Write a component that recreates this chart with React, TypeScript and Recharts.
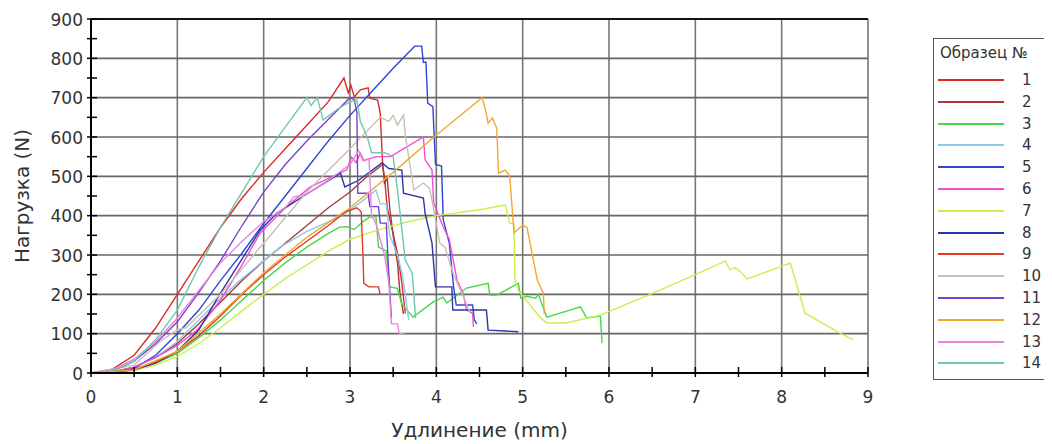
import React from 'react';
import { LineChart, Line, XAxis, YAxis, ReferenceLine } from 'recharts';

// ---- data ----
const seriesNames = ['1', '2', '3', '4', '5', '6', '7', '8', '9', '10', '11', '12', '13', '14'];
const seriesColors = [
  '#dc2a28', '#a83a36', '#44d844', '#8ec8ea', '#2e46d4', '#f04ed4', '#c8f04e',
  '#2a36a6', '#e23a26', '#cabfb2', '#7a42cc', '#f0a830', '#e884e2', '#6ec8ae',
];

const sample1: [number, number][] = [
  [0, 0], [0.25, 10], [0.5, 45], [0.75, 115], [1, 200], [1.25, 285], [1.5, 370], [1.75, 445], [2, 510],
  [2.25, 570], [2.5, 630], [2.75, 690], [2.93, 750], [2.98, 712], [3.01, 732], [3.05, 702], [3.12, 720],
  [3.21, 725], [3.23, 699], [3.32, 694], [3.35, 661], [3.38, 524], [3.4, 498], [3.43, 422], [3.55, 305],
  [3.6, 230], [3.64, 152],
];
const sample2: [number, number][] = [
  [0, 0], [0.25, 3], [0.5, 15], [0.75, 40], [1, 75], [1.25, 125], [1.5, 180], [1.75, 235], [2, 285],
  [2.25, 330], [2.5, 375], [2.75, 420], [3, 460], [3.2, 500], [3.38, 530], [3.4, 480], [3.43, 500],
  [3.46, 420], [3.5, 350], [3.55, 280], [3.58, 200], [3.62, 150],
];
const sample3: [number, number][] = [
  [0, 0], [0.25, 2], [0.5, 10], [0.75, 25], [1, 50], [1.25, 90], [1.5, 135], [1.75, 185], [2, 235],
  [2.25, 280], [2.5, 320], [2.75, 355], [2.88, 371], [2.96, 372], [3.05, 365], [3.15, 385], [3.23, 397],
  [3.3, 397], [3.33, 320], [3.42, 310], [3.46, 219], [3.55, 215], [3.6, 175], [3.73, 142], [3.96, 180],
  [4.08, 193], [4.12, 178], [4.35, 216], [4.6, 228], [4.62, 198], [4.7, 198], [4.95, 228], [4.98, 190],
  [5.05, 195], [5.15, 190], [5.18, 200], [5.28, 142], [5.67, 168], [5.74, 140], [5.9, 145], [5.92, 76],
];
const sample4: [number, number][] = [
  [0, 0], [0.25, 3], [0.5, 15], [0.75, 40], [1, 80], [1.25, 135], [1.5, 190], [1.75, 240], [2, 285],
  [2.19, 320], [2.5, 360], [2.88, 397], [3.1, 430], [3.3, 465], [3.35, 430], [3.42, 430], [3.46, 350],
  [3.55, 300], [3.6, 255], [3.64, 200], [3.68, 135],
];
const sample5: [number, number][] = [
  [0, 0], [0.25, 2], [0.5, 12], [0.75, 45], [1, 100], [1.25, 160], [1.5, 235], [1.75, 305], [2, 380],
  [2.25, 450], [2.5, 520], [2.75, 590], [3, 655], [3.25, 715], [3.5, 775], [3.75, 831], [3.83, 831],
  [3.85, 790], [3.88, 790], [3.9, 686], [3.96, 677], [3.99, 530], [4.06, 526], [4.08, 390], [4.15, 330],
  [4.2, 219], [4.23, 173], [4.42, 173], [4.44, 135], [4.47, 125],
];
const sample6: [number, number][] = [
  [0, 0], [0.25, 3], [0.5, 15], [0.75, 40], [1, 70], [1.23, 109], [1.5, 185], [1.75, 275], [1.96, 356],
  [2.25, 420], [2.54, 473], [2.96, 516], [3.02, 549], [3.07, 535], [3.12, 559], [3.16, 540], [3.3, 550],
  [3.47, 550], [3.85, 600], [3.87, 542], [3.95, 516], [3.97, 432], [4.08, 371], [4.15, 340], [4.24, 236],
  [4.31, 203], [4.35, 160], [4.42, 152], [4.43, 117],
];
const sample7: [number, number][] = [
  [0, 0], [0.25, 1], [0.5, 6], [0.75, 20], [1, 42], [1.25, 75], [1.5, 115], [1.75, 158], [2, 200],
  [2.25, 240], [2.5, 275], [2.75, 310], [3, 340], [3.3, 362], [3.66, 384], [4, 400], [4.5, 415],
  [4.8, 427], [4.85, 381], [4.9, 380], [4.91, 236], [4.95, 210], [5.2, 142], [5.28, 127], [5.5, 127],
  [5.9, 147], [6.51, 203], [7, 250], [7.35, 285], [7.4, 262], [7.46, 268], [7.52, 258], [7.6, 239],
  [7.98, 270], [8.1, 279], [8.17, 228], [8.27, 152], [8.68, 101], [8.83, 84],
];
const sample8: [number, number][] = [
  [0, 0], [0.25, 2], [0.5, 8], [0.75, 25], [1, 55], [1.25, 110], [1.5, 203], [1.75, 290], [1.96, 363],
  [2.15, 406], [2.5, 455], [2.89, 508], [2.94, 473], [3.1, 490], [3.37, 534], [3.45, 520], [3.6, 516],
  [3.62, 457], [3.85, 445], [3.87, 406], [3.95, 330], [3.99, 219], [4.18, 219], [4.19, 160], [4.58, 160],
  [4.6, 109], [4.95, 105],
];
const sample9: [number, number][] = [
  [0, 0], [0.25, 2], [0.5, 10], [0.75, 28], [1, 55], [1.25, 95], [1.5, 145], [1.75, 200], [2, 250],
  [2.25, 295], [2.5, 335], [2.75, 375], [2.95, 410], [3.08, 420], [3.13, 410], [3.15, 300], [3.16, 228],
  [3.22, 219], [3.33, 219], [3.35, 200],
];
const sample10: [number, number][] = [
  [0, 0], [0.5, 20], [0.8, 80], [1, 110], [1.1, 115], [1.5, 200], [2, 330], [2.5, 460], [3, 570],
  [3.35, 650], [3.45, 640], [3.5, 655], [3.55, 630], [3.62, 656], [3.64, 605], [3.7, 520], [3.74, 465],
  [3.85, 483], [3.92, 470], [3.95, 440], [4.04, 330], [4.1, 320], [4.2, 250], [4.3, 200], [4.4, 150],
];
const sample11: [number, number][] = [
  [0, 0], [0.25, 5], [0.5, 30], [0.75, 75], [1, 130], [1.25, 205], [1.5, 285], [1.75, 375], [2, 460],
  [2.25, 530], [2.5, 590], [2.75, 645], [3, 700], [3.05, 695], [3.08, 663], [3.09, 457], [3.21, 457],
  [3.23, 423], [3.33, 423], [3.35, 381], [3.42, 381], [3.45, 250], [3.48, 140],
];
const sample12: [number, number][] = [
  [0, 0], [0.5, 8], [1, 55], [1.5, 150], [2, 255], [2.5, 345], [3, 420], [3.5, 510], [4, 605],
  [4.53, 700], [4.57, 669], [4.6, 635], [4.65, 648], [4.7, 622], [4.72, 508], [4.8, 516], [4.85, 500],
  [4.9, 356], [5, 376], [5.05, 370], [5.17, 236], [5.24, 203], [5.25, 150],
];
const sample13: [number, number][] = [
  [0, 0], [0.25, 8], [0.5, 35], [0.75, 80], [1, 140], [1.25, 210], [1.5, 280], [1.75, 335], [2, 385],
  [2.25, 420], [2.35, 448], [2.5, 455], [2.75, 490], [3, 530], [3.1, 565], [3.15, 540], [3.22, 545],
  [3.25, 400], [3.3, 380], [3.4, 300], [3.45, 230], [3.48, 125], [3.55, 125], [3.57, 100], [3.63, 100],
];
const sample14: [number, number][] = [
  [0, 0], [0.25, 5], [0.5, 30], [0.75, 85], [1, 160], [1.25, 270], [1.5, 370], [1.75, 460], [2, 550],
  [2.25, 625], [2.5, 700], [2.55, 680], [2.62, 700], [2.69, 643], [2.85, 670], [3, 690], [3.08, 694],
  [3.12, 640], [3.2, 600], [3.25, 560], [3.4, 560], [3.5, 550], [3.55, 465], [3.58, 407], [3.64, 287],
  [3.72, 254], [3.73, 229], [3.75, 168], [3.76, 140],
];
const samples = [
  sample1, sample2, sample3, sample4, sample5, sample6, sample7,
  sample8, sample9, sample10, sample11, sample12, sample13, sample14,
];

const xTicks = [0, 0.5, 1, 1.5, 2, 2.5, 3, 3.5, 4, 4.5, 5, 5.5, 6, 6.5, 7, 7.5, 8, 8.5, 9];
const yTicks = [0, 50, 100, 150, 200, 250, 300, 350, 400, 450, 500, 550, 600, 650, 700, 750, 800, 850, 900];
const xGrid = [1, 2, 3, 4, 5, 6, 7, 8, 9];
const yGrid = [100, 200, 300, 400, 500, 600, 700, 800];
const xTitle = 'Удлинение (mm)';
const yTitle = 'Нагрузка (N)';
const legendTitle = 'Образец №';

const FONT = '"DejaVu Sans", Verdana, sans-serif';
const TEXT = '#333';

const XTick = (props: any) => {
  const { x, y, payload } = props;
  const v = payload.value;
  const major = Math.abs(v - Math.round(v)) < 1e-6;
  return (
    <g>
      <line x1={x} x2={x} y1={y - 6} y2={y + 4} stroke="#000" strokeWidth={1.5} />
      {major && (
        <text x={x} y={y + 30} textAnchor="middle" fontSize={17} fontFamily={FONT} fill={TEXT}>
          {v}
        </text>
      )}
    </g>
  );
};

const YTick = (props: any) => {
  const { x, y, payload } = props;
  const v = payload.value;
  const major = v % 100 === 0;
  return (
    <g>
      <line x1={x - 4} x2={x + 6} y1={y} y2={y} stroke="#000" strokeWidth={1.5} />
      {major && (
        <text x={x - 8} y={y + 6.5} textAnchor="end" fontSize={17} fontFamily={FONT} fill={TEXT}>
          {v}
        </text>
      )}
    </g>
  );
};

export default function App() {
  return (
    <div style={{ position: 'relative', width: 1036, height: 436, overflow: 'hidden', background: '#fff' }}>
      <LineChart width={880} height={436} margin={{ top: 11, right: 20, left: 0, bottom: 0 }}>
        <XAxis
          type="number"
          dataKey="x"
          domain={[0, 9]}
          ticks={xTicks}
          interval={0}
          tickSize={0}
          tickMargin={0}
          tickLine={false}
          axisLine={{ stroke: '#000', strokeWidth: 2 }}
          tick={(p: any) => <XTick {...p} />}
          height={71}
          label={{
            content: (p: any) => {
              const vb = p.viewBox;
              return (
                <text x={vb.x + vb.width / 2} y={vb.y + 64} textAnchor="middle" fontSize={20} fontFamily={FONT} fill={TEXT}>
                  {xTitle}
                </text>
              );
            },
          }}
        />
        <YAxis
          type="number"
          dataKey="y"
          domain={[0, 900]}
          ticks={yTicks}
          interval={0}
          width={83}
          tickSize={0}
          tickMargin={0}
          tickLine={false}
          axisLine={{ stroke: '#000', strokeWidth: 2 }}
          tick={(p: any) => <YTick {...p} />}
          label={{
            content: (p: any) => {
              const vb = p.viewBox;
              const cx = vb.x + 14;
              const cy = vb.y + vb.height / 2;
              return (
                <text x={cx} y={cy} textAnchor="middle" dominantBaseline="central" transform={`rotate(-90 ${cx} ${cy})`} fontSize={20} fontFamily={FONT} fill={TEXT}>
                  {yTitle}
                </text>
              );
            },
          }}
        />
        {xGrid.map((v) => (
          <ReferenceLine key={'gx' + v} x={v} stroke="#777" strokeWidth={1.6} />
        ))}
        {yGrid.map((v) => (
          <ReferenceLine key={'gy' + v} y={v} stroke="#666" strokeWidth={1.6} />
        ))}
        <ReferenceLine y={900} stroke="#111" strokeWidth={2} />
        {samples.map((s, i) => (
          <Line
            key={seriesNames[i]}
            name={seriesNames[i]}
            data={s.map(([x, y]) => ({ x, y }))}
            dataKey="y"
            type="linear"
            stroke={seriesColors[i]}
            strokeWidth={1.4}
            dot={false}
            activeDot={false}
            isAnimationActive={false}
          />
        ))}
      </LineChart>
      <div
        style={{
          position: 'absolute',
          left: 925,
          top: 30,
          width: 140,
          height: 342,
          border: '1px solid #555',
          borderRight: 'none',
          fontFamily: FONT,
          fontSize: 15,
          color: TEXT,
          boxSizing: 'border-box',
        }}
      >
        <div style={{ position: 'absolute', left: 6, top: 5, whiteSpace: 'nowrap' }}>{legendTitle}</div>
        {seriesNames.map((n, i) => (
          <div key={n} style={{ position: 'absolute', left: 4, top: 31 + i * 21.8, height: 20, width: 130 }}>
            <div style={{ position: 'absolute', left: 0, top: 9, width: 66, height: 2, background: seriesColors[i] }} />
            <div style={{ position: 'absolute', left: 84, top: 0, lineHeight: '20px' }}>{n}</div>
          </div>
        ))}
      </div>
    </div>
  );
}
